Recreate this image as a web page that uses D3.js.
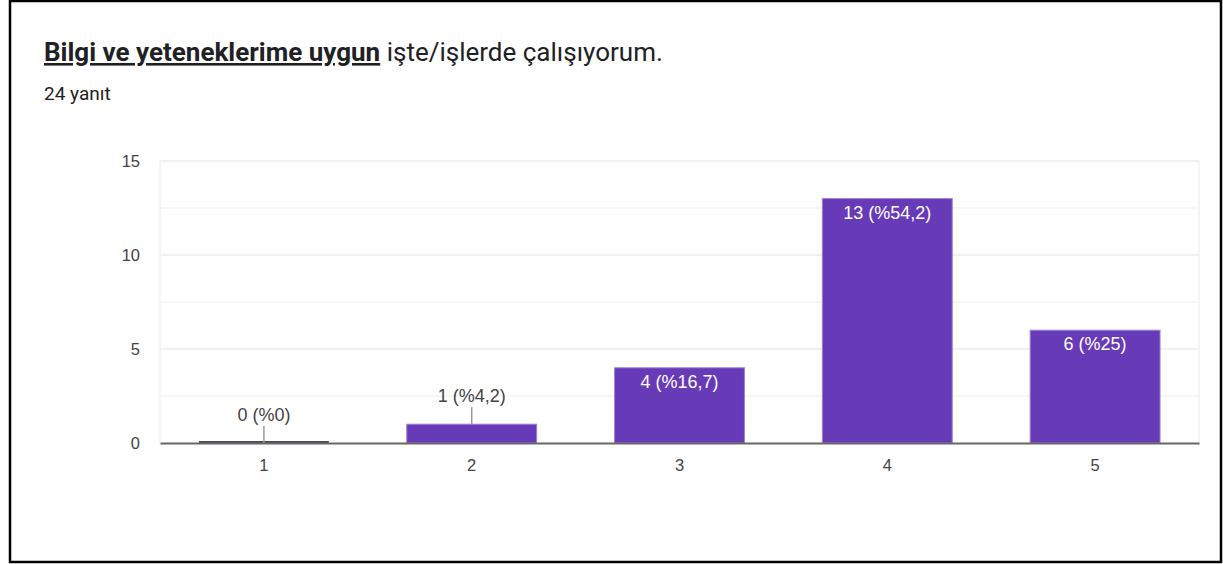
<!DOCTYPE html>
<html><head><meta charset="utf-8">
<script src="https://cdn.jsdelivr.net/npm/d3@7"></script>
<style>
html,body{margin:0;padding:0;background:#fff;}
svg{display:block;}
</style></head>
<body>
<svg id="c" width="1223" height="564"></svg>
<script>
const categories = ["1","2","3","4","5"];
const counts = [0,1,4,13,6];
const labels = ["0 (%0)","1 (%4,2)","4 (%16,7)","13 (%54,2)","6 (%25)"];
const yTicks = [0,5,10,15];
const gridValues = [2.5,5,7.5,10,12.5,15];

(function(){
const svg = d3.select("#c");
const FONT = "Arial, 'Liberation Sans', sans-serif";
// frame
svg.append("rect").attr("x",10).attr("y",1).attr("width",1211).attr("height",561)
  .attr("fill","#fff").attr("stroke","#000").attr("stroke-width",2.5);

// title
const t = svg.append("text").attr("x",44).attr("y",61)
  .attr("font-family","Roboto, Arial, sans-serif").attr("font-size",26).attr("fill","#202124");
t.append("tspan").attr("font-weight","bold").attr("text-decoration","underline").text("Bilgi ve yeteneklerime uygun");
t.append("tspan").text(" işte/işlerde çalışıyorum.");
svg.append("text").attr("x",44).attr("y",100)
  .attr("font-family","Roboto, Arial, sans-serif").attr("font-size",19).attr("fill","#202124").text("24 yanıt");

const pLeft=160, pRight=1199, pTop=161, pBottom=443;
const x = d3.scaleBand().domain(categories).range([pLeft,pRight]).paddingInner(0.375).paddingOuter(0.1875);
const y = d3.scaleLinear().domain([0,15]).range([pBottom,pTop]);

const g = svg.append("g");
// gridlines
g.selectAll("line.grid").data(gridValues).join("line")
  .attr("x1",pLeft).attr("x2",pRight).attr("y1",d=>y(d)).attr("y2",d=>y(d))
  .attr("stroke",d=>d%5===0?"#ebebeb":"#f3f3f3").attr("stroke-width",1.5);
// side borders
[pLeft,pRight].forEach(xx=>g.append("line").attr("x1",xx).attr("x2",xx).attr("y1",y(15)).attr("y2",pBottom)
  .attr("stroke","#f0f0f0").attr("stroke-width",1.5));

// y axis
const ya = d3.axisLeft(y).tickValues(yTicks).tickSize(0).tickPadding(20);
const yg = svg.append("g").attr("transform",`translate(${pLeft},0)`).call(ya);
yg.select(".domain").remove();
yg.selectAll("text").attr("font-family",FONT).attr("font-size",16.5).attr("fill","#444");

// bars
const data = categories.map((c,i)=>({c, v:counts[i], l:labels[i]}));
g.selectAll("rect.bar").data(data).join("rect")
  .attr("x",d=>x(d.c)).attr("width",x.bandwidth())
  .attr("y",d=>y(d.v)).attr("height",d=>y(0)-y(d.v))
  .attr("fill","#673ab7").attr("stroke","#9c7fd6").attr("stroke-width",1);
// zero-value bar line
g.selectAll("line.zero").data(data.filter(d=>d.v===0)).join("line")
  .attr("x1",d=>x(d.c)).attr("x2",d=>x(d.c)+x.bandwidth()).attr("y1",pBottom-1).attr("y2",pBottom-1)
  .attr("stroke","#4a4a5a").attr("stroke-width",2);

// baseline axis
const xa = d3.axisBottom(x).tickSize(0).tickPadding(16);
const xg = svg.append("g").attr("transform",`translate(0,${pBottom})`).call(xa);
xg.select(".domain").attr("stroke","#666").attr("stroke-width",2);
xg.selectAll("text").attr("font-family",FONT).attr("font-size",16.5).attr("fill","#444");

// labels
const inside = d=>d.v>=3;
data.forEach(d=>{
  const cx = x(d.c)+x.bandwidth()/2;
  if(inside(d)){
    svg.append("text").attr("x",cx).attr("y",y(d.v)+20).attr("text-anchor","middle")
      .attr("font-family",FONT).attr("font-size",18).attr("fill","#fff").text(d.l);
  } else {
    svg.append("line").attr("x1",cx).attr("x2",cx).attr("y1",y(d.v)).attr("y2",y(d.v)-17)
      .attr("stroke","#999").attr("stroke-width",1.5);
    svg.append("text").attr("x",cx).attr("y",y(d.v)-22).attr("text-anchor","middle")
      .attr("font-family",FONT).attr("font-size",18).attr("fill","#444").text(d.l);
  }
});
})();
</script>
</body></html>
